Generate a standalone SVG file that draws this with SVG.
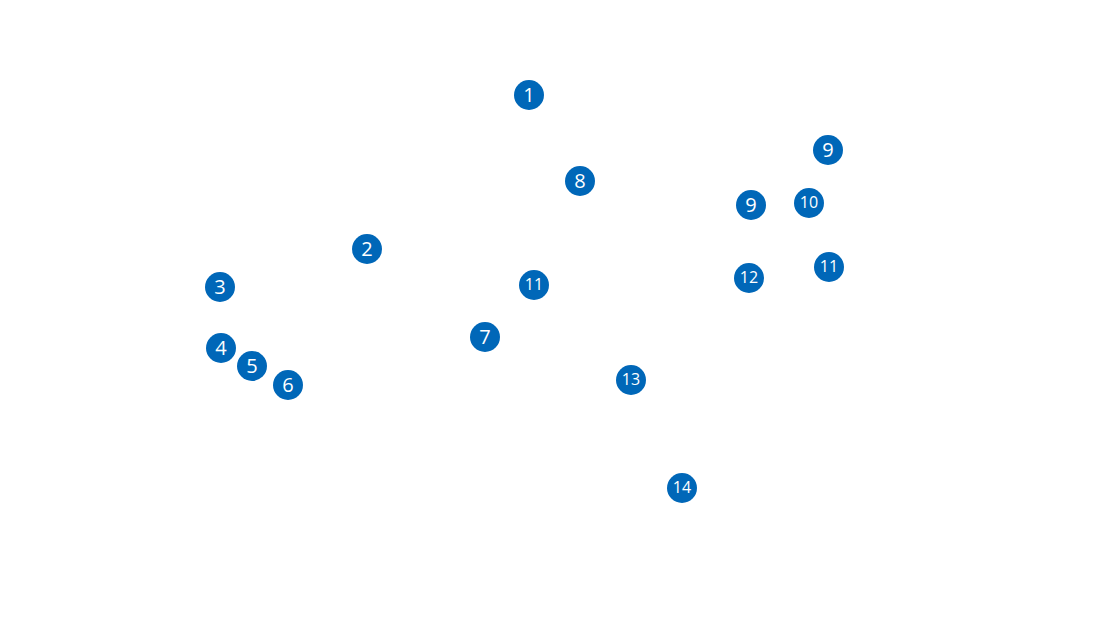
<svg xmlns="http://www.w3.org/2000/svg" width="1100" height="620" viewBox="0 0 1100 620">
<style>
.m circle{fill:#0067b8}
.m text{fill:#fff;font-family:"Open Sans","Noto Sans",sans-serif;text-anchor:middle;dominant-baseline:central}
.s text{font-size:20px}
.d text{font-size:16px}
</style>
<rect width="1100" height="620" fill="#fff"/>
<g id="connectors"></g>
<g id="n1" class="m s"><circle cx="529" cy="95" r="15"/><text x="529" y="94">1</text></g>
<g id="n8" class="m s"><circle cx="580" cy="181" r="15"/><text x="580" y="180">8</text></g>
<g id="n9a" class="m s"><circle cx="828" cy="150" r="15"/><text x="828" y="149">9</text></g>
<g id="n9b" class="m s"><circle cx="751" cy="205" r="15"/><text x="751" y="204">9</text></g>
<g id="n10" class="m d"><circle cx="809" cy="203" r="15"/><text x="809" y="202">10</text></g>
<g id="n12" class="m d"><circle cx="749" cy="278" r="15"/><text x="749" y="277">12</text></g>
<g id="n11b" class="m d"><circle cx="829" cy="267" r="15"/><text x="829" y="266">11</text></g>
<g id="n2" class="m s"><circle cx="367" cy="249" r="15"/><text x="367" y="248">2</text></g>
<g id="n3" class="m s"><circle cx="220" cy="287" r="15"/><text x="220" y="286">3</text></g>
<g id="n11a" class="m d"><circle cx="534" cy="285" r="15"/><text x="534" y="284">11</text></g>
<g id="n7" class="m s"><circle cx="485" cy="337" r="15"/><text x="485" y="336">7</text></g>
<g id="n4" class="m s"><circle cx="221" cy="348" r="15"/><text x="221" y="347">4</text></g>
<g id="n5" class="m s"><circle cx="252" cy="366" r="15"/><text x="252" y="365">5</text></g>
<g id="n6" class="m s"><circle cx="288" cy="385" r="15"/><text x="288" y="384">6</text></g>
<g id="n13" class="m d"><circle cx="631" cy="380" r="15"/><text x="631" y="379">13</text></g>
<g id="n14" class="m d"><circle cx="682" cy="488" r="15"/><text x="682" y="487">14</text></g>
</svg>
